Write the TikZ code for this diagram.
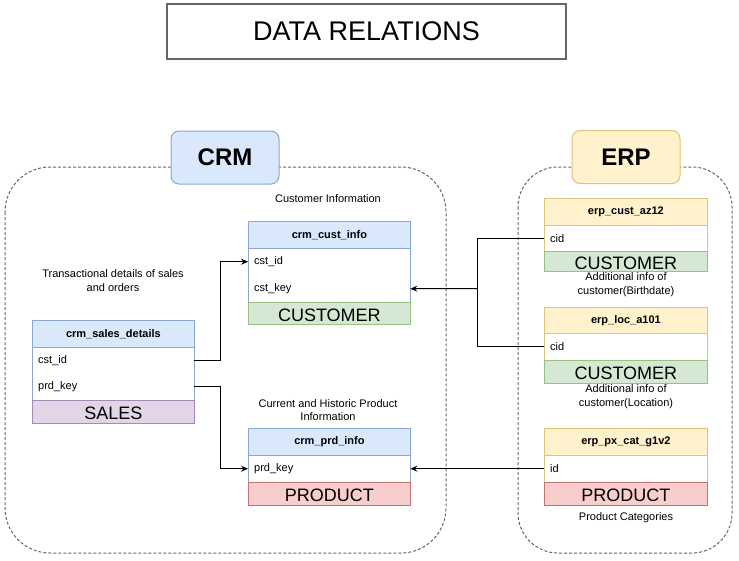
\documentclass[tikz,border=0pt]{standalone}
\usepackage{fontspec}
\setmainfont{Liberation Sans}
\usetikzlibrary{arrows.meta}
\definecolor{bluef}{HTML}{DAE8FC}\definecolor{blued}{HTML}{8BA6CF}
\definecolor{greenf}{HTML}{D5E8D4}\definecolor{greend}{HTML}{97C283}
\definecolor{purpf}{HTML}{E1D5E7}\definecolor{purpd}{HTML}{A68AB4}
\definecolor{redf}{HTML}{F8CECC}\definecolor{redd}{HTML}{C47470}
\definecolor{yelf}{HTML}{FFF2CC}\definecolor{yeld}{HTML}{DEC478}
\definecolor{frame}{HTML}{666666}
\tikzset{
  hdr/.style={draw=#1, anchor=north west, inner sep=0pt, line width=0.8pt,
    font=\bfseries\fontsize{11}{13}\selectfont},
  rowtext/.style={anchor=north west, inner xsep=6pt, inner ysep=0pt, align=left,
    font=\fontsize{11}{13}\selectfont},
  bar/.style={anchor=north west, inner sep=0pt, line width=0.8pt,
    font=\fontsize{18}{20}\selectfont},
  bartext/.style={inner sep=0pt, font=\fontsize{18}{20}\selectfont},
  desc/.style={align=center, inner sep=0pt, font=\fontsize{11}{13.5}\selectfont},
  container/.style={draw=frame, line width=1pt, dash pattern=on 3pt off 2pt},
  label/.style={draw=#1, rounded corners=8pt, line width=1pt, minimum width=108pt,
    minimum height=53pt, inner sep=0pt, font=\bfseries\fontsize{24}{26}\selectfont},
  conn/.style={draw=black, line width=1pt},
  arr/.style={conn, -{Stealth[length=7pt,width=6pt,inset=2.5pt]}},
  body/.style={draw=#1, line width=0.8pt}
}
\begin{document}
\begin{tikzpicture}[x=1pt,y=-1pt]
\useasboundingbox (0,0) rectangle (739,560);
\fill[white] (0,0) rectangle (739,560);

% title
\node[draw=frame, line width=1.5pt, minimum width=399pt, minimum height=55pt, inner sep=0pt,
  font=\fontsize{27}{30}\selectfont] (title) at (366.5,31.5) {DATA RELATIONS};

% containers
\draw[container, rounded corners=45pt] (5,167) rectangle (446,553);
\draw[container, rounded corners=40pt] (518,167) rectangle (732,553);
\node[fill=bluef, label=blued] (crm) at (225,157.5) {CRM};
\node[fill=yelf, label=yeld] (erp) at (626,157) {ERP};

% ---------- crm_cust_info
\node[hdr=blued, fill=bluef, minimum width=162pt, minimum height=27pt] (cch) at (248,221) {crm\_cust\_info};
\node[rowtext, text width=150pt, minimum height=27pt] (ccid) at (248,248) {cst\_id};
\node[rowtext, text width=150pt, minimum height=27pt] (cckey) at (248,275) {cst\_key};
\draw[body=blued] (cch.south west) rectangle (410,302);
\node[bar, draw=greend, fill=greenf, minimum width=162pt, minimum height=22pt] (ccbar) at (248,302) {};
\node[bartext, yshift=-1.5pt] (ccbart) at (ccbar.center) {CUSTOMER};
\node[desc] (ccdesc) at (328,199) {Customer Information};

% ---------- crm_sales_details
\node[hdr=blued, fill=bluef, minimum width=162pt, minimum height=27pt] (sdh) at (32,320) {crm\_sales\_details};
\node[rowtext, text width=150pt, minimum height=26.5pt] (sdid) at (32,347) {cst\_id};
\node[rowtext, text width=150pt, minimum height=26.5pt] (sdkey) at (32,373.5) {prd\_key};
\draw[body=blued] (sdh.south west) rectangle (194,400);
\node[bar, draw=purpd, fill=purpf, minimum width=162pt, minimum height=23pt] (sdbar) at (32,400) {};
\node[bartext, yshift=-1.5pt] (sdbart) at (sdbar.center) {SALES};
\node[desc] (sddesc) at (113,280.5) {Transactional details of sales\\and orders};

% ---------- crm_prd_info
\node[hdr=blued, fill=bluef, minimum width=162pt, minimum height=27pt] (cph) at (248,428) {crm\_prd\_info};
\node[rowtext, text width=150pt, minimum height=27pt] (cpkey) at (248,455) {prd\_key};
\draw[body=blued] (cph.south west) rectangle (410,482);
\node[bar, draw=redd, fill=redf, minimum width=162pt, minimum height=23pt] (cpbar) at (248,482) {};
\node[bartext, yshift=-1.5pt] (cpbart) at (cpbar.center) {PRODUCT};
\node[desc] (cpdesc) at (328,410) {Current and Historic Product\\Information};

% ---------- erp_cust_az12
\node[hdr=yeld, fill=yelf, minimum width=163pt, minimum height=27pt] (eah) at (544,198) {erp\_cust\_az12};
\node[rowtext, text width=151pt, minimum height=26pt] (eacid) at (544,225) {cid};
\draw[body=yeld] (eah.south west) rectangle (707,251);
\node[bar, draw=greend, fill=greenf, minimum width=163pt, minimum height=20pt] (eabar) at (544,251) {};
\node[bartext, yshift=-1.5pt] (eabart) at (eabar.center) {CUSTOMER};
\node[desc] (eadesc) at (626,284.5) {Additional info of\\customer(Birthdate)};

% ---------- erp_loc_a101
\node[hdr=yeld, fill=yelf, minimum width=163pt, minimum height=26pt] (elh) at (544,307) {erp\_loc\_a101};
\node[rowtext, text width=151pt, minimum height=27pt] (elcid) at (544,333) {cid};
\draw[body=yeld] (elh.south west) rectangle (707,360);
\node[bar, draw=greend, fill=greenf, minimum width=163pt, minimum height=23pt] (elbar) at (544,360) {};
\node[bartext, yshift=-1.5pt] (elbart) at (elbar.center) {CUSTOMER};
\node[desc] (eldesc) at (626,396.5) {Additional info of\\customer(Location)};

% ---------- erp_px_cat_g1v2
\node[hdr=yeld, fill=yelf, minimum width=163pt, minimum height=27pt] (eph) at (544,428) {erp\_px\_cat\_g1v2};
\node[rowtext, text width=151pt, minimum height=27pt] (epid) at (544,455) {id};
\draw[body=yeld] (eph.south west) rectangle (707,482);
\node[bar, draw=redd, fill=redf, minimum width=163pt, minimum height=23pt] (epbar) at (544,482) {};
\node[bartext, yshift=-1.5pt] (epbart) at (epbar.center) {PRODUCT};
\node[desc] (epdesc) at (626,518) {Product Categories};

% ---------- connectors
\draw[arr] (sdid.east) -- ++(26,0) |- (ccid.west);
\draw[arr] (sdkey.east) -- ++(26,0) |- (cpkey.west);
\coordinate (jn) at (477,288.5);
\draw[conn] (eacid.west) -| (jn);
\draw[conn] (elcid.west) -| (jn);
\draw[arr] (jn) -- (cckey.east);
\draw[arr] (epid.west) -- (cpkey.east);
\end{tikzpicture}
\end{document}
